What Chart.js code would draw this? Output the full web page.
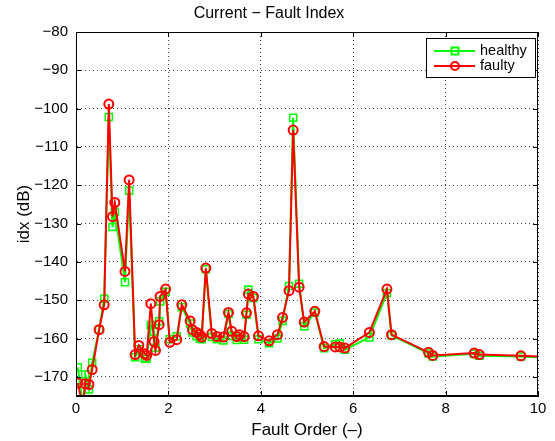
<!DOCTYPE html>
<html lang="en">
<head>
<meta charset="UTF-8">
<title>Current - Fault Index</title>
<script src="https://cdn.jsdelivr.net/npm/chart.js"></script>
<style>
  body { margin: 0; background: #fff; }
  canvas { display: block; }
</style>
</head>
<body>
<canvas id="chart" width="555" height="441"></canvas>
<script>
// Fault order (x) shared by both series
const faultOrder = [0.04, 0.15, 0.20, 0.28, 0.35, 0.50, 0.61, 0.71, 0.79, 0.84,
  1.06, 1.15, 1.28, 1.36, 1.49, 1.53, 1.62, 1.69, 1.72, 1.80,
  1.82, 1.94, 2.03, 2.18, 2.29, 2.47, 2.52, 2.61, 2.68, 2.72,
  2.81, 2.94, 3.05, 3.19, 3.30, 3.37, 3.48, 3.54, 3.64, 3.69,
  3.73, 3.84, 3.95, 4.18, 4.36, 4.47, 4.61, 4.70, 4.83, 4.94,
  5.17, 5.37, 5.61, 5.71, 5.82, 6.35, 6.73, 6.83, 7.63, 7.72,
  8.62, 8.73, 9.63, 10.5];

const healthy = [-167.5, -178, -169.4, -173.3, -166.3, -157.7, -149.6, -102.2, -130.9, -126.9,
  -145.3, -121.4, -164.9, -162.8, -165.3, -165.2, -156.5, -158.2, -162.4, -155.5,
  -150.3, -147.8, -160.2, -159.4, -151.8, -156.1, -158.4, -159.4, -160.0, -160.2,
  -141.9, -159.6, -160.2, -160.5, -153.6, -159.3, -160.4, -159.8, -160.3, -153.8,
  -147.3, -149.4, -160.2, -161.2, -160.0, -155.4, -146.3, -102.4, -145.7, -156.8,
  -153.2, -162.5, -161.5, -161.3, -162.9, -159.7, -148.1, -159.2, -163.9, -164.7,
  -164.0, -164.5, -164.7, -165.1];

const faulty = [-171.6, -178, -171.8, -172.0, -168.1, -157.7, -151.2, -98.8, -128.2, -124.5,
  -142.5, -118.6, -164.2, -161.8, -164.0, -164.4, -150.9, -160.8, -163.1, -156.4,
  -149.0, -147.1, -161.0, -160.3, -151.2, -155.4, -157.7, -158.4, -159.0, -159.6,
  -141.6, -158.7, -159.5, -159.6, -153.2, -158.1, -159.5, -159.0, -159.5, -153.3,
  -148.4, -149.0, -159.3, -160.6, -159.0, -154.5, -147.5, -105.6, -146.6, -155.7,
  -152.9, -162.1, -162.2, -162.2, -162.5, -158.4, -147.1, -159.0, -163.6, -164.4,
  -163.8, -164.2, -164.5, -165.0];

const xTicks = [0, 2, 4, 6, 8, 10];
const yTicks = [-170, -160, -150, -140, -130, -120, -110, -100, -90, -80];

const FONT = 'Liberation Sans, Arial, Helvetica, sans-serif';
const minus = v => String(v).replace('-', '\u2212');

// box, inside tick marks and legend like the matlab figure
const axesBox = {
  id: 'axesBox',
  afterDraw(chart) {
    const { ctx, chartArea: a, scales } = chart;
    ctx.save();
    ctx.strokeStyle = '#000';
    ctx.lineWidth = 1;
    ctx.setLineDash([]);
    ctx.strokeRect(a.left + 0.5, a.top + 0.5, a.right - a.left - 1, a.bottom - a.top - 1);
    ctx.beginPath();
    yTicks.forEach(v => {
      const y = Math.round(scales.y.getPixelForValue(v)) + 0.5;
      ctx.moveTo(a.left, y); ctx.lineTo(a.left + 5, y);
      ctx.moveTo(a.right, y); ctx.lineTo(a.right - 5, y);
    });
    xTicks.forEach(v => {
      const x = Math.round(scales.x.getPixelForValue(v)) + 0.5;
      ctx.moveTo(x, a.bottom); ctx.lineTo(x, a.bottom - 5);
      ctx.moveTo(x, a.top); ctx.lineTo(x, a.top + 5);
    });
    ctx.stroke();

    // legend
    const lx = a.right - 112, ly = a.top + 6, lw = 110, lh = 40;
    ctx.fillStyle = '#fff';
    ctx.fillRect(lx, ly, lw, lh);
    ctx.strokeRect(lx + 0.5, ly + 0.5, lw - 1, lh - 1);
    ctx.font = '14.5px ' + FONT;
    ctx.textBaseline = 'middle';
    const rows = [
      { label: 'healthy', color: '#00ff00', shape: 'rect' },
      { label: 'faulty', color: '#ff0000', shape: 'circle' }
    ];
    rows.forEach((r, i) => {
      const cy = ly + 13 + i * 15;
      ctx.strokeStyle = r.color;
      ctx.lineWidth = 2;
      ctx.beginPath();
      ctx.moveTo(lx + 8, cy); ctx.lineTo(lx + 49, cy);
      ctx.stroke();
      ctx.beginPath();
      if (r.shape === 'rect') ctx.rect(lx + 25.5, cy - 3.5, 7, 7);
      else ctx.arc(lx + 29, cy, 4, 0, Math.PI * 2);
      ctx.stroke();
      ctx.fillStyle = '#000';
      ctx.fillText(r.label, lx + 54, cy);
    });
    ctx.restore();
  }
};

new Chart(document.getElementById('chart'), {
  type: 'line',
  data: {
    datasets: [
      {
        label: 'healthy',
        data: faultOrder.map((x, i) => ({ x, y: healthy[i] })),
        borderColor: '#00ff00',
        borderWidth: 2,
        pointStyle: 'rect',
        pointRadius: 5,
        pointBorderWidth: 1.5,
        pointBorderColor: '#00ff00',
        pointBackgroundColor: 'rgba(0,0,0,0)',
        tension: 0,
        order: 1
      },
      {
        label: 'faulty',
        data: faultOrder.map((x, i) => ({ x, y: faulty[i] })),
        borderColor: '#ff0000',
        borderWidth: 2,
        pointStyle: 'circle',
        pointRadius: 4.5,
        pointBorderWidth: 2,
        pointBorderColor: '#ff0000',
        pointBackgroundColor: 'rgba(0,0,0,0)',
        tension: 0,
        order: 0
      }
    ]
  },
  options: {
    responsive: false,
    animation: false,
    layout: { padding: { left: 0, right: 17, top: 0, bottom: 0 } },
    plugins: {
      legend: { display: false },
      tooltip: { enabled: false },
      title: {
        display: true,
        text: 'Current \u2212 Fault Index',
        color: '#000',
        font: { family: FONT, size: 16, weight: 'normal', lineHeight: 1 },
        padding: { top: 6, bottom: 10 }
      }
    },
    scales: {
      x: {
        type: 'linear',
        min: 0,
        max: 10,
        afterBuildTicks: s => { s.ticks = xTicks.map(v => ({ value: v })); },
        afterFit: s => { s.height = 45; },
        ticks: {
          color: '#000',
          font: { family: FONT, size: 15 },
          padding: 4,
          maxRotation: 0,
          callback: v => minus(v)
        },
        grid: { color: '#444', lineWidth: 1, drawTicks: false },
        border: { display: true, color: '#000', width: 1, dash: [1, 3] },
        title: {
          display: true,
          text: 'Fault Order (\u2013)',
          color: '#000',
          font: { family: FONT, size: 17 },
          padding: { top: 0, bottom: 0 }
        }
      },
      y: {
        type: 'linear',
        min: -175,
        max: -80,
        afterBuildTicks: s => { s.ticks = yTicks.map(v => ({ value: v })); },
        afterFit: s => { s.width = 76; },
        ticks: {
          color: '#000',
          font: { family: FONT, size: 15 },
          padding: 8,
          callback: v => minus(v)
        },
        grid: { color: '#444', lineWidth: 1, drawTicks: false },
        border: { display: true, color: '#000', width: 1, dash: [1, 3] },
        title: {
          display: true,
          text: 'idx (dB)',
          color: '#000',
          font: { family: FONT, size: 17 },
          padding: { top: 14, bottom: 0 }
        }
      }
    }
  },
  plugins: [axesBox]
});
</script>
</body>
</html>
